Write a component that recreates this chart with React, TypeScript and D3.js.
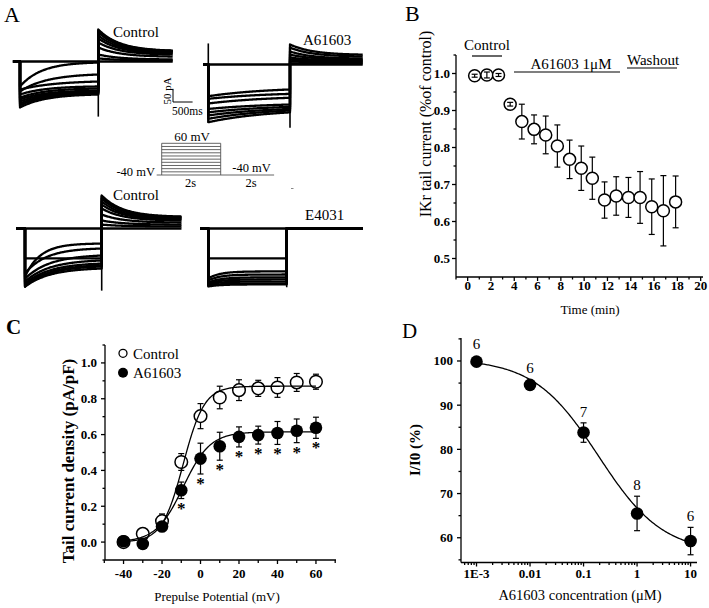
import React from 'react';
import * as d3 from 'd3';

const SERIF = '"Liberation Serif","Times New Roman",Times,serif';

// ---------------- Panel A: IKr current recordings (pA vs ms) ----------------
const STEP_MS = 2000;
const PA_SCALE = [0, 50]; // scale bar: 50 pA
const MS_SCALE = [0, 500]; // scale bar: 500 ms

// Control (top)
const ctlStepStartPA = [0, -96, -115, -108, -127, -139, -146, -154, -162, -169, -177];
const ctlStepEndPA = [0, -4, -50, -77, -96, -104, -112, -116, -119, -123, -127];
const ctlStepTauMs = [600, 550, 700, 900, 650, 650, 650, 650, 650, 650, 650];
const ctlTailStartPA = [0, 12, 27, 54, 73, 89, 100, 112, 115, 119, 123];
const ctlTailEndPA = [0, 4, 8, 19, 27, 31, 35, 38, 40, 41, 42];
const ctlTransientPA = [-177, 0, -212, 123];

// A61603 (top)
const drugStepStartPA = [0, -122, -132, -150, -171, -184, -196, -209, -222];
const drugStepEndPA = [0, -96, -113, -128, -154, -163, -171, -177, -184];
const drugStepTauMs = [1500, 1500, 1500, 1500, 1500, 1500, 1500, 1500, 1500];
const drugTailStartPA = [0, 4, 12, 19, 27, 38, 50, 65, 77];
const drugTailEndPA = [0, 4, 8, 12, 15, 19, 23, 31, 38];
const drugTransientPA = [-224, 81, -243, 77];

// Control (bottom)
const ctl2StepStartPA = [0, -115, -185, -173, -193, -204, -212, -219, -223, -224];
const ctl2StepEndPA = [0, -115, -58, -77, -104, -123, -135, -142, -146, -154];
const ctl2StepTauMs = [600, 600, 400, 550, 650, 650, 650, 650, 650, 650];
const ctl2TailStartPA = [0, 15, 31, 54, 77, 92, 104, 115, 123, 127];
const ctl2TailEndPA = [0, 8, 15, 23, 31, 35, 38, 42, 44, 46];
const ctl2TransientPA = [-226, 0, -239, 127];

// E4031 (bottom)
const e4031StepStartPA = [0, -115, -192, -200, -208, -212, -215, -219, -223];
const e4031StepEndPA = [0, -115, -165, -177, -188, -196, -204, -212, -215];
const e4031StepTauMs = [300, 300, 300, 300, 300, 300, 300, 300, 300];
const e4031TailStartPA = [0, 0, 0, 0, 0, 0, 0, 0, 0];
const e4031TailEndPA = [0, 0, 0, 0, 0, 0, 0, 0, 0];
const e4031TransientPA = [-223, 0, -226, 0];

// Voltage protocol
const holdingMV = -40;
const testStepsMV = [-30, -20, -10, 0, 10, 20, 30, 40, 50, 60];
const protocolPreMs = 170;
const protocolPostMs = 1810;

// ---------------- Panel B: time course ----------------
const bTime = [0.6, 1.65, 2.65, 3.65, 4.65, 5.7, 6.7, 7.7, 8.75, 9.75, 10.7, 11.75, 12.75, 13.8, 14.8, 15.8, 16.8, 17.85];
const bMean = [0.994, 0.996, 0.996, 0.917, 0.870, 0.849, 0.834, 0.804, 0.768, 0.744, 0.717, 0.658, 0.669, 0.665, 0.665, 0.640, 0.629, 0.653];
const bErr = [0.004, 0.008, 0.004, 0.005, 0.047, 0.039, 0.051, 0.057, 0.052, 0.060, 0.057, 0.049, 0.052, 0.054, 0.070, 0.075, 0.095, 0.070];
const bXTicks = [0, 2, 4, 6, 8, 10, 12, 14, 16, 18, 20];
const bXMinor = [-1, 1, 3, 5, 7, 9, 11, 13, 15, 17, 19];
const bYTicks = [0.5, 0.6, 0.7, 0.8, 0.9, 1.0];
const bYMinor = [0.55, 0.65, 0.75, 0.85, 0.95, 1.05];

// ---------------- Panel C: activation ----------------
const cVoltage = [-40, -30, -20, -10, 0, 10, 20, 30, 40, 50, 60];
const cControl = [0.0, 0.046, 0.117, 0.447, 0.703, 0.807, 0.848, 0.858, 0.863, 0.891, 0.895];
const cControlErr = [0.008, 0.012, 0.04, 0.047, 0.07, 0.063, 0.058, 0.045, 0.055, 0.05, 0.042];
const cDrug = [0.005, -0.01, 0.087, 0.289, 0.466, 0.535, 0.587, 0.597, 0.609, 0.621, 0.638];
const cDrugErr = [0.008, 0.01, 0.02, 0.046, 0.086, 0.078, 0.056, 0.05, 0.064, 0.066, 0.059];
const cSignificant = [false, false, false, true, true, true, true, true, true, true, true];
const cFitControl = [0.87, -9, 5.5]; // amplitude, V1/2, slope
const cFitDrug = [0.615, -9, 7];
const cXTicks = [-40, -20, 0, 20, 40, 60];
const cXMinor = [-50, -30, -10, 10, 30, 50, 70];
const cYTicks = [0.0, 0.2, 0.4, 0.6, 0.8, 1.0];
const cYMinor = [-0.1, 0.1, 0.3, 0.5, 0.7, 0.9, 1.1];

// ---------------- Panel D: concentration-response ----------------
const dConc = [0.001, 0.01, 0.1, 1, 10];
const dMean = [99.85, 94.6, 83.8, 65.5, 59.25];
const dErr = [0.4, 0.6, 2.2, 3.9, 3.1];
const dN = [6, 6, 7, 8, 6];
const dFit = [100.5, 56.5, 0.19, 0.72]; // top, bottom, IC50, Hill
const dXTicks = [0.001, 0.01, 0.1, 1, 10];
const dXLabels = ['1E-3', '0.01', '0.1', '1', '10'];
const dYTicks = [60, 70, 80, 90, 100];
const dYMinor = [55, 65, 75, 85, 95, 105];

// ---------------------------------------------------------------------------
type Rec = {
  s0: number[]; s1: number[]; tau: number[]; t0: number[]; t1: number[]; tr: number[];
  x0: number; x1: number; y: number; pre: number; tail: number;
};

const recordings: Rec[] = [
  { s0: ctlStepStartPA, s1: ctlStepEndPA, tau: ctlStepTauMs, t0: ctlTailStartPA, t1: ctlTailEndPA, tr: ctlTransientPA, x0: 20, x1: 98.3, y: 61.5, pre: 180, tail: 1900 },
  { s0: drugStepStartPA, s1: drugStepEndPA, tau: drugStepTauMs, t0: drugTailStartPA, t1: drugTailEndPA, tr: drugTransientPA, x0: 208.3, x1: 290, y: 64.5, pre: 130, tail: 1790 },
  { s0: ctl2StepStartPA, s1: ctl2StepEndPA, tau: ctl2StepTauMs, t0: ctl2TailStartPA, t1: ctl2TailEndPA, tr: ctl2TransientPA, x0: 25, x1: 101.7, y: 228.5, pre: 230, tail: 2080 },
  { s0: e4031StepStartPA, s1: e4031StepEndPA, tau: e4031StepTauMs, t0: e4031TailStartPA, t1: e4031TailEndPA, tr: e4031TransientPA, x0: 208.3, x1: 286.7, y: 228.5, pre: 210, tail: 1950 },
];

function relax(a: number, b: number, tau: number, T: number, t: number) {
  const e = Math.exp(-T / tau);
  return b + (a - b) * (Math.exp(-t / tau) - e) / (1 - e);
}

function Recording({ r }: { r: Rec }) {
  const x = d3.scaleLinear().domain([0, STEP_MS]).range([r.x0, r.x1]);
  const y = d3.scaleLinear().domain(PA_SCALE).range([r.y, r.y - 13]);
  const line = d3.line<[number, number]>().x(d => x(d[0])).y(d => y(d[1]));
  const paths = r.s0.map((_, i) => {
    const pts: [number, number][] = [[-r.pre, 0], [0, 0]];
    for (let t = 0; t <= STEP_MS; t += 20) pts.push([t, relax(r.s0[i], r.s1[i], r.tau[i], STEP_MS, t)]);
    for (let t = 0; t <= r.tail; t += 20) pts.push([STEP_MS + t, relax(r.t0[i], r.t1[i], 550, r.tail, t)]);
    return line(pts) as string;
  });
  return (
    <g>
      {paths.map((p, i) => (
        <path key={i} d={p} fill="none" stroke="#000" strokeWidth={2.3} strokeLinejoin="round" />
      ))}
      <line x1={x(0)} x2={x(0)} y1={y(r.tr[0])} y2={y(r.tr[1])} stroke="#000" strokeWidth={1.6} />
      <line x1={x(STEP_MS)} x2={x(STEP_MS)} y1={y(r.tr[2])} y2={y(r.tr[3])} stroke="#000" strokeWidth={1.6} />
    </g>
  );
}

function Protocol() {
  const x = d3.scaleLinear().domain([0, STEP_MS]).range([161.7, 220.7]);
  const y = d3.scaleLinear().domain([holdingMV, 60]).range([175, 143.3]);
  const col = '#555';
  const top = d3.max(testStepsMV) as number;
  return (
    <g stroke={col} strokeWidth={0.9} fill="none">
      <line x1={x(-protocolPreMs)} x2={x(STEP_MS + protocolPostMs)} y1={y(holdingMV)} y2={y(holdingMV)} />
      {testStepsMV.map(v => (
        <line key={v} x1={x(0)} x2={x(STEP_MS)} y1={y(v)} y2={y(v)} />
      ))}
      <line x1={x(0)} x2={x(0)} y1={y(holdingMV)} y2={y(top)} />
      <line x1={x(STEP_MS)} x2={x(STEP_MS)} y1={y(holdingMV)} y2={y(top)} />
    </g>
  );
}

function PanelA() {
  const tx = d3.scaleLinear().domain([0, STEP_MS]).range([0, 78.4]);
  const ty = d3.scaleLinear().domain(PA_SCALE).range([0, 13]);
  const bx = 173, by = 102;
  return (
    <g>
      <text x={4} y={22} fontSize={22}>A</text>
      {recordings.map((r, i) => <Recording key={i} r={r} />)}
      <text x={113} y={37} fontSize={15}>Control</text>
      <text x={303} y={45} fontSize={15}>A61603</text>
      <text x={113} y={200} fontSize={15}>Control</text>
      <text x={305} y={220} fontSize={15}>E4031</text>
      {/* scale bar */}
      <line x1={bx} x2={bx} y1={by} y2={by - ty(PA_SCALE[1])} stroke="#000" strokeWidth={1} />
      <line x1={bx} x2={bx + tx(MS_SCALE[1])} y1={by} y2={by} stroke="#000" strokeWidth={1} />
      <text transform={`translate(${bx - 2},${by - 11}) rotate(-90)`} textAnchor="middle" fontSize={11}>50 pA</text>
      <text x={172} y={115} fontSize={11.5}>500ms</text>
      <Protocol />
      <text x={192} y={141} fontSize={13} textAnchor="middle">60 mV</text>
      <text x={155} y={176} fontSize={12.5} textAnchor="end">-40 mV</text>
      <text x={251.5} y={171.5} fontSize={12.5} textAnchor="middle">-40 mV</text>
      <text x={190.5} y={187} fontSize={12.5} textAnchor="middle">2s</text>
      <text x={251} y={187} fontSize={12.5} textAnchor="middle">2s</text>
      <line x1={291} x2={293.5} y1={188.5} y2={188.5} stroke="#888" strokeWidth={1} />
    </g>
  );
}

function ErrBarOutside({ cx, cy, yTop, yBot, r, cap }: { cx: number; cy: number; yTop: number; yBot: number; r: number; cap: number }) {
  const inside = yTop > cy - r;
  return (
    <g stroke="#000" strokeWidth={1.2}>
      {inside ? (
        <line x1={cx} x2={cx} y1={yTop} y2={yBot} />
      ) : (
        <>
          <line x1={cx} x2={cx} y1={yTop} y2={cy - r} />
          <line x1={cx} x2={cx} y1={cy + r} y2={yBot} />
        </>
      )}
      <line x1={cx - cap} x2={cx + cap} y1={yTop} y2={yTop} />
      <line x1={cx - cap} x2={cx + cap} y1={yBot} y2={yBot} />
    </g>
  );
}

function PanelB() {
  const L = 456, R = 703, T = 55, B = 277;
  const x = d3.scaleLinear().domain([-1, 20.2]).range([L, R]);
  const y = d3.scaleLinear().domain([0.45, 1.05]).range([B, T]);
  const fmt = d3.format('.1f');
  const r = 6;
  return (
    <g>
      <text x={405} y={21} fontSize={22}>B</text>
      <g stroke="#000" strokeWidth={1.3}>
        <line x1={L} x2={L} y1={T} y2={B} />
        <line x1={L} x2={R} y1={B} y2={B} />
        {bXTicks.map(v => <line key={v} x1={x(v)} x2={x(v)} y1={B} y2={B + 4} />)}
        {bXMinor.map(v => <line key={v} x1={x(v)} x2={x(v)} y1={B} y2={B + 2.5} />)}
        {bYTicks.map(v => <line key={v} x1={L - 4} x2={L} y1={y(v)} y2={y(v)} />)}
        {bYMinor.map(v => <line key={v} x1={L - 2.5} x2={L} y1={y(v)} y2={y(v)} />)}
      </g>
      {bXTicks.map(v => (
        <text key={v} x={x(v)} y={290} fontSize={13} fontWeight="bold" textAnchor="middle">{v}</text>
      ))}
      {bYTicks.map(v => (
        <text key={v} x={450} y={y(v) + 4.5} fontSize={13} fontWeight="bold" textAnchor="end">{fmt(v)}</text>
      ))}
      <text transform="translate(425,124) rotate(-90)" textAnchor="middle" dominantBaseline="central" fontSize={16}>IKr tail current (%of control)</text>
      <text x={590} y={314} textAnchor="middle" fontSize={13}>Time (min)</text>
      <text x={487} y={50} textAnchor="middle" fontSize={15}>Control</text>
      <line x1={472} x2={502} y1={56} y2={56} stroke="#000" strokeWidth={1.2} />
      <text x={571} y={68.5} textAnchor="middle" fontSize={15}>A61603 1μM</text>
      <line x1={514} x2={620} y1={72} y2={72} stroke="#000" strokeWidth={1.2} />
      <text x={627} y={64.5} fontSize={15}>Washout</text>
      <line x1={627} x2={677} y1={68} y2={68} stroke="#000" strokeWidth={1.2} />
      {bTime.map((t, i) => (
        <circle key={i} cx={x(t)} cy={y(bMean[i])} r={r} fill="#fff" stroke="#000" strokeWidth={1.5} />
      ))}
      {bTime.map((t, i) => (
        <ErrBarOutside key={i} cx={x(t)} cy={y(bMean[i])} yTop={y(bMean[i] + bErr[i])} yBot={y(bMean[i] - bErr[i])} r={r} cap={3} />
      ))}
    </g>
  );
}

function PanelC() {
  const L = 105, R = 336, T = 345, B = 560;
  const x = d3.scaleLinear().domain([-50, 70]).range([104.3, 335.2]);
  const y = d3.scaleLinear().domain([-0.1, 1.1]).range([B, T]);
  const fmt = d3.format('.1f');
  const r = 6.3;
  const boltz = (p: number[]) => (v: number) => p[0] / (1 + Math.exp((p[1] - v) / p[2]));
  const vs = d3.range(cVoltage[0], cVoltage[cVoltage.length - 1] + 0.5, 0.5);
  const line = d3.line<number>().x(v => x(v));
  const fc = boltz(cFitControl), fd = boltz(cFitDrug);
  return (
    <g>
      <text x={6} y={334} fontSize={21} fontWeight="bold">C</text>
      <g stroke="#000" strokeWidth={1.3}>
        <line x1={L} x2={L} y1={T} y2={B} />
        <line x1={L} x2={R} y1={B} y2={B} />
        {cXTicks.map(v => <line key={v} x1={x(v)} x2={x(v)} y1={B} y2={B + 4} />)}
        {cXMinor.map(v => <line key={v} x1={x(v)} x2={x(v)} y1={B} y2={B + 3} />)}
        {cYTicks.map(v => <line key={v} x1={L - 4} x2={L} y1={y(v)} y2={y(v)} />)}
        {cYMinor.map(v => <line key={v} x1={L - 2.5} x2={L} y1={y(v)} y2={y(v)} />)}
      </g>
      {cXTicks.map(v => (
        <text key={v} x={x(v)} y={578} fontSize={13} fontWeight="bold" textAnchor="middle">{v}</text>
      ))}
      {cYTicks.map(v => (
        <text key={v} x={97} y={y(v) + 4.5} fontSize={13} fontWeight="bold" textAnchor="end">{fmt(v)}</text>
      ))}
      <text transform="translate(68,461) rotate(-90)" textAnchor="middle" dominantBaseline="central" fontSize={17} fontWeight="bold">Tail current density (pA/pF)</text>
      <text x={217} y={601} textAnchor="middle" fontSize={13}>Prepulse Potential (mV)</text>
      {/* legend */}
      <circle cx={123} cy={353.3} r={4} fill="#fff" stroke="#000" strokeWidth={1.3} />
      <text x={133} y={358.5} fontSize={15}>Control</text>
      <circle cx={123} cy={372.8} r={5} fill="#000" />
      <text x={133} y={378} fontSize={15}>A61603</text>
      {/* control */}
      <g stroke="#000" strokeWidth={1.2}>
        {cVoltage.map((v, i) => (
          <g key={i}>
            <line x1={x(v)} x2={x(v)} y1={y(cControl[i] + cControlErr[i])} y2={y(cControl[i] - cControlErr[i])} />
            <line x1={x(v) - 3} x2={x(v) + 3} y1={y(cControl[i] + cControlErr[i])} y2={y(cControl[i] + cControlErr[i])} />
            <line x1={x(v) - 3} x2={x(v) + 3} y1={y(cControl[i] - cControlErr[i])} y2={y(cControl[i] - cControlErr[i])} />
          </g>
        ))}
      </g>
      {cVoltage.map((v, i) => (
        <circle key={i} cx={x(v)} cy={y(cControl[i])} r={r} fill="#fff" stroke="#000" strokeWidth={1.5} />
      ))}
      <g stroke="#000" strokeWidth={1.2}>
        {cVoltage.map((v, i) => (
          <g key={i}>
            <line x1={x(v)} x2={x(v)} y1={y(cDrug[i] + cDrugErr[i])} y2={y(cDrug[i] - cDrugErr[i])} />
            <line x1={x(v) - 3} x2={x(v) + 3} y1={y(cDrug[i] + cDrugErr[i])} y2={y(cDrug[i] + cDrugErr[i])} />
            <line x1={x(v) - 3} x2={x(v) + 3} y1={y(cDrug[i] - cDrugErr[i])} y2={y(cDrug[i] - cDrugErr[i])} />
          </g>
        ))}
      </g>
      {cVoltage.map((v, i) => (
        <circle key={i} cx={x(v)} cy={y(cDrug[i])} r={r} fill="#000" />
      ))}
      <path d={line.y(v => y(fc(v)))(vs) as string} fill="none" stroke="#000" strokeWidth={1.3} />
      <path d={line.y(v => y(fd(v)))(vs) as string} fill="none" stroke="#000" strokeWidth={1.3} />
      {cVoltage.map((v, i) =>
        cSignificant[i] ? (
          <text key={i} x={x(v)} y={y(cDrug[i] - cDrugErr[i]) + 15} fontSize={17} fontWeight="bold" textAnchor="middle">*</text>
        ) : null
      )}
    </g>
  );
}

function PanelD() {
  const L = 461, R = 697, T = 338, B = 562.5;
  const x = d3.scaleLog().domain([Math.pow(10, -3.29), Math.pow(10, 1.12)]).range([L, R]);
  const y = d3.scaleLinear().domain([54.4, 105.2]).range([B, T]);
  const r = 6.3;
  const hill = (c: number) => dFit[1] + (dFit[0] - dFit[1]) / (1 + Math.pow(c / dFit[2], dFit[3]));
  const cs = d3.range(-3, 1.0001, 0.02).map(e => Math.pow(10, e));
  const line = d3.line<number>().x(c => x(c)).y(c => y(hill(c)));
  const minor: number[] = [];
  for (let e = -4; e <= 1; e++) for (let m = 2; m <= 9; m++) {
    const v = m * Math.pow(10, e);
    if (v >= x.domain()[0] && v <= x.domain()[1]) minor.push(v);
  }
  return (
    <g>
      <text x={402} y={338} fontSize={21}>D</text>
      <g stroke="#000" strokeWidth={1.3}>
        <line x1={L} x2={L} y1={T} y2={B} />
        <line x1={L} x2={R} y1={B} y2={B} />
        {dXTicks.map(v => <line key={v} x1={x(v)} x2={x(v)} y1={B} y2={B + 4} />)}
        {minor.map(v => <line key={v} x1={x(v)} x2={x(v)} y1={B} y2={B + 2.5} />)}
        {dYTicks.map(v => <line key={v} x1={L - 4} x2={L} y1={y(v)} y2={y(v)} />)}
        {dYMinor.map(v => <line key={v} x1={L - 2.5} x2={L} y1={y(v)} y2={y(v)} />)}
      </g>
      {dXTicks.map((v, i) => (
        <text key={v} x={x(v)} y={578} fontSize={13} fontWeight="bold" textAnchor="middle">{dXLabels[i]}</text>
      ))}
      {dYTicks.map(v => (
        <text key={v} x={453} y={y(v) + 4.5} fontSize={13} fontWeight="bold" textAnchor="end">{v}</text>
      ))}
      <text transform="translate(415,450) rotate(-90)" textAnchor="middle" dominantBaseline="central" fontSize={15} fontWeight="bold">I/I0 (%)</text>
      <text x={580} y={600} textAnchor="middle" fontSize={14.5}>A61603 concentration (μM)</text>
      <path d={line(cs) as string} fill="none" stroke="#000" strokeWidth={1.3} />
      {dConc.map((c, i) => (
        <g key={i}>
          <circle cx={x(c)} cy={y(dMean[i])} r={r} fill="#000" />
          <g stroke="#000" strokeWidth={1.2}>
            <line x1={x(c)} x2={x(c)} y1={y(dMean[i] + dErr[i])} y2={y(dMean[i] - dErr[i])} />
            <line x1={x(c) - 3} x2={x(c) + 3} y1={y(dMean[i] + dErr[i])} y2={y(dMean[i] + dErr[i])} />
            <line x1={x(c) - 3} x2={x(c) + 3} y1={y(dMean[i] - dErr[i])} y2={y(dMean[i] - dErr[i])} />
          </g>
          <text x={x(c)} y={Math.min(y(dMean[i]) - r, y(dMean[i] + dErr[i])) - 11} dominantBaseline="central" textAnchor="middle" fontSize={15}>{dN[i]}</text>
        </g>
      ))}
    </g>
  );
}

export default function App() {
  return (
    <svg width={709} height={608} viewBox="0 0 709 608" style={{ position: 'absolute', left: 0, top: 0, background: '#fff' }} fontFamily={SERIF}>
      <rect width={709} height={608} fill="#fff" />
      <PanelA />
      <PanelB />
      <PanelC />
      <PanelD />
    </svg>
  );
}
